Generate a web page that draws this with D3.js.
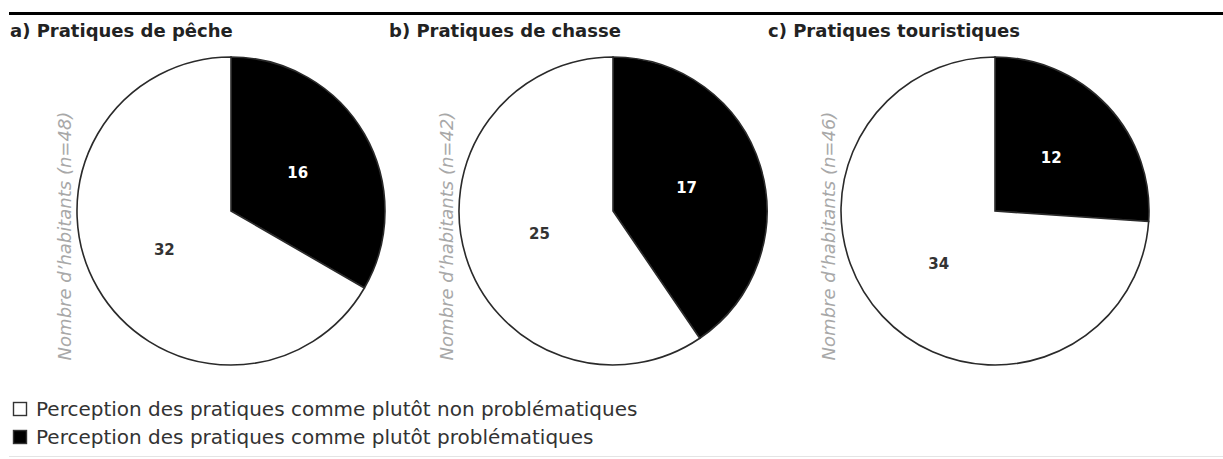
<!DOCTYPE html>
<html>
<head>
<meta charset="utf-8">
<script src="https://cdn.jsdelivr.net/npm/d3@7"></script>
<style>
  html, body { margin: 0; padding: 0; background: #fff; }
  svg { display: block; }
</style>
</head>
<body>
<svg id="chart" width="1223" height="459"></svg>
<script>
// Panels: titles and counts of residents per perception
const panelTitles = ["a) Pratiques de pêche", "b) Pratiques de chasse", "c) Pratiques touristiques"];
const problematic = [16, 17, 12];
const nonProblematic = [32, 25, 34];
const categories = ["nonProblematic", "problematic"];
const legendLabels = [
  "Perception des pratiques comme plutôt non problématiques",
  "Perception des pratiques comme plutôt problématiques"
];

const W = 1223, H = 459;
const svg = d3.select("#chart");

const fill = d3.scaleOrdinal().domain(categories).range(["#ffffff", "#000000"]);
const labelColor = d3.scaleOrdinal().domain(categories).range(["#333333", "#ffffff"]);

// Top rule and bottom hairline
svg.append("line").attr("x1", 9).attr("x2", W).attr("y1", 13.5).attr("y2", 13.5)
  .attr("stroke", "#000").attr("stroke-width", 3);
svg.append("line").attr("x1", 9).attr("x2", W).attr("y1", 456.5).attr("y2", 456.5)
  .attr("stroke", "#e4e4e4").attr("stroke-width", 1);

const panelX = d3.scaleLinear().domain([0, panelTitles.length - 1]).range([231, 995]);
const titleX = d3.scaleLinear().domain([0, panelTitles.length - 1]).range([10, 768]);
const cy = 211, R = 154;

const pie = d3.pie().sort(null).value(d => d.value);
const arc = d3.arc().innerRadius(0).outerRadius(R);

panelTitles.forEach((title, i) => {
  const cx = panelX(i);
  const g = svg.append("g");

  // panel title
  g.append("text")
    .attr("x", titleX(i)).attr("y", 37)
    .attr("font-family", "DejaVu Sans, sans-serif")
    .attr("font-weight", "bold")
    .attr("font-size", 18)
    .attr("fill", "#222")
    .text(title);

  const data = [
    { key: "problematic", value: problematic[i] },
    { key: "nonProblematic", value: nonProblematic[i] }
  ];
  const n = d3.sum(data, d => d.value);

  // vertical axis caption
  g.append("text")
    .attr("transform", `translate(${cx - 167},236) rotate(-90)`)
    .attr("text-anchor", "middle")
    .attr("dominant-baseline", "central")
    .attr("font-family", "DejaVu Sans, sans-serif")
    .attr("font-style", "italic")
    .attr("font-size", 18)
    .attr("fill", "#a8a8a8")
    .text(`Nombre d’habitants (n=${n})`);

  const pg = g.append("g").attr("transform", `translate(${cx},${cy})`);
  const arcs = pie(data);

  pg.selectAll("path").data(arcs).join("path")
    .attr("d", arc)
    .attr("fill", d => fill(d.data.key))
    .attr("stroke", "#2a2a2a")
    .attr("stroke-width", 1.6);

  pg.selectAll("text").data(arcs).join("text")
    .attr("transform", d => `translate(${arc.centroid(d)})`)
    .attr("text-anchor", "middle")
    .attr("dominant-baseline", "central")
    .attr("font-family", "DejaVu Sans, sans-serif")
    .attr("font-weight", "bold")
    .attr("font-size", 15)
    .attr("fill", d => labelColor(d.data.key))
    .text(d => d.data.value);
});

// Legend
const legend = svg.append("g");
legendLabels.forEach((label, j) => {
  const y = 402 + j * 28;
  legend.append("rect")
    .attr("x", 13.5).attr("y", y + 0.5).attr("width", 13).attr("height", 13)
    .attr("fill", fill(categories[j]))
    .attr("stroke", "#333").attr("stroke-width", 1.4);
  legend.append("text")
    .attr("x", 36).attr("y", y + 14)
    .attr("font-family", "DejaVu Sans, sans-serif")
    .attr("font-size", 20)
    .attr("fill", "#333")
    .text(label);
});
</script>
</body>
</html>
